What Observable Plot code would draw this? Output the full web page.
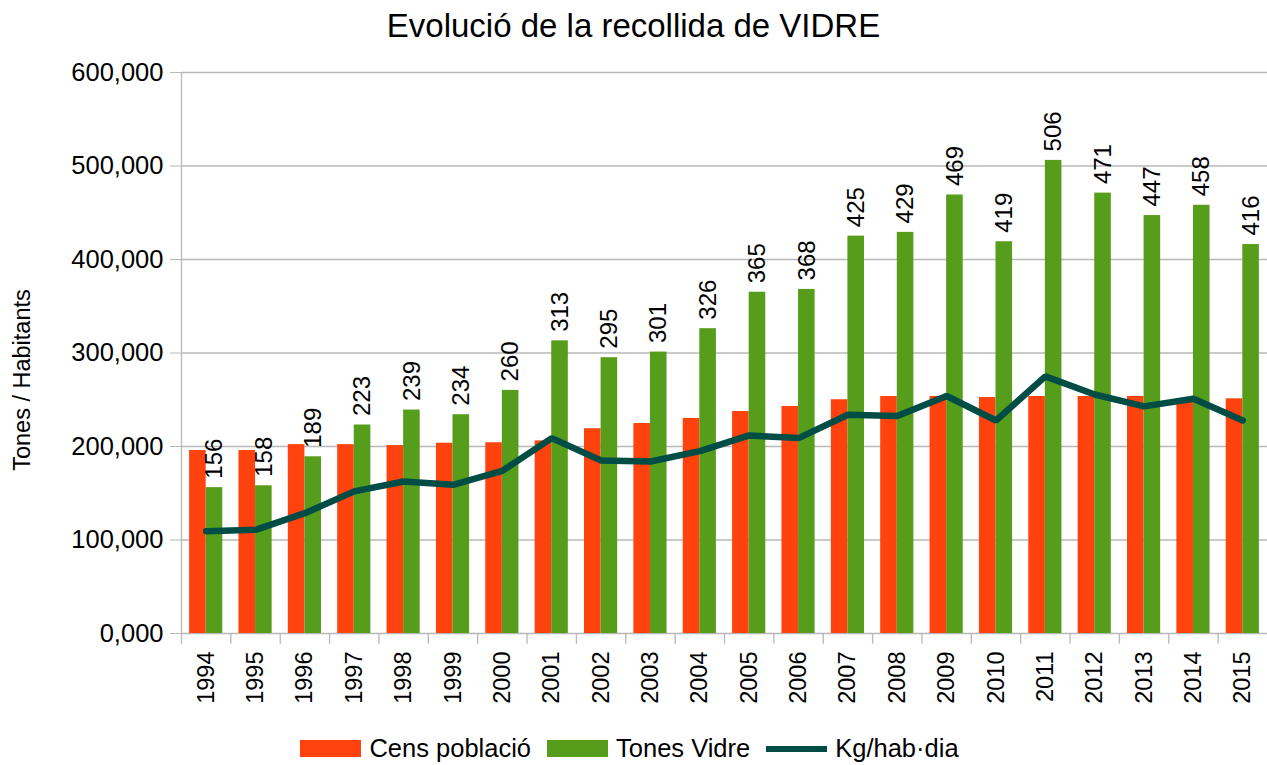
<!DOCTYPE html>
<html>
<head>
<meta charset="utf-8">
<script src="https://cdn.jsdelivr.net/npm/d3@7"></script>
<script src="https://cdn.jsdelivr.net/npm/@observablehq/plot@0.6"></script>
<style>
  html, body { margin: 0; padding: 0; background: #fff; }
  body { width: 1267px; height: 765px; overflow: hidden; font-family: "Liberation Sans", Arial, sans-serif; color: #000; }
  #title { height: 52px; box-sizing: border-box; padding-top: 7px; text-align: center; font-size: 33px; line-height: normal; white-space: nowrap; }
  #chart svg { display: block; overflow: hidden; }
  #legend { height: 33px; display: flex; justify-content: center; align-items: center; font-size: 25.5px; padding-right: 8px; }
  .item { display: flex; align-items: center; margin: 0 8px; }
  .sw { width: 61px; margin-right: 8px; }
</style>
</head>
<body>
<div id="title">Evolució de la recollida de VIDRE</div>
<div id="chart"></div>
<div id="legend"></div>
<script>
const years = ["1994","1995","1996","1997","1998","1999","2000","2001","2002","2003","2004","2005","2006","2007","2008","2009","2010","2011","2012","2013","2014","2015"];
const censPoblacio = [195700,195700,202000,202000,201000,203500,204000,206000,219000,224600,230000,237400,242800,250000,253500,253500,252400,253500,253500,253500,249000,251000];
const tonesVidre = [156000,158000,189000,223000,239000,234000,260000,313000,295000,301000,326000,365000,368000,425000,429000,469000,419000,506000,471000,447000,458000,416000];
const vidreLabels = ["156","158","189","223","239","234","260","313","295","301","326","365","368","425","429","469","419","506","471","447","458","416"];
const kgHabDia = [109400,110900,128700,152000,162600,159000,174000,209000,185000,184000,195000,211800,209000,233900,232500,254000,227800,275000,255600,242900,251000,227800];
const yTicks = [0,100000,200000,300000,400000,500000,600000];
const yTickLabels = ["0,000","100,000","200,000","300,000","400,000","500,000","600,000"];
const seriesNames = ["Cens població","Tones Vidre","Kg/hab·dia"];
const seriesColors = ["#ff420e","#579d1c","#004d45"];

const rows = years.map((y, i) => ({year: y, cens: censPoblacio[i], vidre: tonesVidre[i], label: vidreLabels[i], kg: kgHabDia[i]}));

const W = 1267, H = 680;
const x0 = 181, x1 = 1267;
const bw = (x1 - x0) / years.length;
const half = bw / 2;
const outer = 8.1;
const grid = "#b8b8b8";

const plot = Plot.plot({
  width: W,
  height: H,
  marginLeft: 181,
  marginRight: 0,
  marginTop: 20,
  marginBottom: 99,
  style: {fontFamily: "'Liberation Sans', Arial, sans-serif", color: "#000", background: "#fff"},
  x: {type: "band", domain: years, range: [x0, x1], padding: 0, align: 0.5, round: false},
  y: {domain: [0, 600000], range: [581, 20]},
  marks: [
    Plot.ruleY(yTicks, {y: d => d, stroke: grid, strokeWidth: 1.3}),
    Plot.barY(rows, {x: "year", y: "cens", fill: seriesColors[0], insetLeft: outer, insetRight: half}),
    Plot.barY(rows, {x: "year", y: "vidre", fill: seriesColors[1], insetLeft: half, insetRight: outer}),
    Plot.ruleX([years[0]], {x: d => d, dx: -half, y1: 0, y2: 600000, stroke: grid, strokeWidth: 1.3}),
    Plot.ruleX(years, {x: d => d, dx: -half, y1: 0, y2: -11500, stroke: grid, strokeWidth: 1.3}),
    Plot.axisY({ticks: yTicks, tickFormat: (d) => yTickLabels[yTicks.indexOf(d)], tickSize: 11, tickPadding: 7, fontSize: 25.5, stroke: grid, color: "#000", label: null}),
    Plot.axisX({tickRotate: -90, tickSize: 0, tickPadding: 18, fontSize: 23.5, label: null}),
    Plot.line(rows, {x: "year", y: "kg", stroke: seriesColors[2], strokeWidth: 6.5, strokeLinejoin: "miter"}),
    Plot.text(rows, {x: "year", y: "vidre", text: "label", dx: 8.3, dy: -9, rotate: -90, textAnchor: "start", fontSize: 24, fill: "#000"}),
    Plot.text(["Tones / Habitants"], {frameAnchor: "left", textAnchor: "middle", dx: -159, dy: 27, rotate: -90, fontSize: 23.5, fill: "#000"})
  ]
});
document.getElementById("chart").appendChild(plot);

const legend = document.getElementById("legend");
seriesNames.forEach((name, i) => {
  const item = document.createElement("div");
  item.className = "item";
  const sw = document.createElement("div");
  sw.className = "sw";
  sw.style.background = seriesColors[i];
  sw.style.height = i === 2 ? "6px" : "17px";
  const t = document.createElement("span");
  t.textContent = name;
  item.appendChild(sw);
  item.appendChild(t);
  legend.appendChild(item);
});
</script>
</body>
</html>
